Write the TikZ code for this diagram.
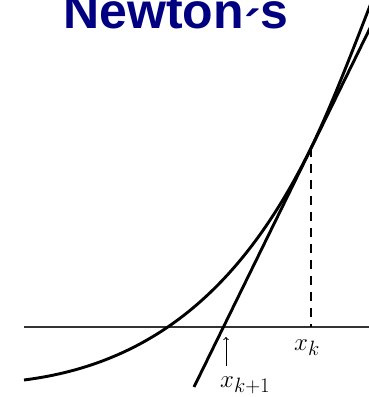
\documentclass[tikz,border=0pt]{standalone}
\usepackage{fontspec}
\newfontfamily\titlefont{Liberation Sans}
\definecolor{titleblue}{RGB}{0,0,128}
\tikzset{
  curveline/.style={line width=2.9pt, black},
  axisline/.style={line width=2.4pt, black!80},
  dashline/.style={line width=2.8pt, black, dash pattern=on 9pt off 7pt},
  lbl/.style={inner sep=0pt, anchor=base west, font=\fontsize{30}{34}\selectfont},
}
\begin{document}
\begin{tikzpicture}[x=1pt,y=-1pt]
\useasboundingbox (0,0) rectangle (369,397);
\fill[white] (0,0) rectangle (369,397);
% title
\node[inner sep=0pt, anchor=base, text=titleblue, font=\titlefont\bfseries\fontsize{50}{50}\selectfont] (title) at (176,28) {Newton\raisebox{-17pt}{´}s};
% axis
\coordinate (axL) at (24,327);
\coordinate (axR) at (372,327);
\draw[axisline] (axL) -- (axR);
% curve
\coordinate (c0) at (24,380);
\coordinate (xkpt) at (311,148);
\coordinate (c3) at (373,-2);
\draw[curveline] (c0) .. controls (150,364) and (241,291) .. (xkpt)
                      .. controls (331,107) and (352,52) .. (c3);
% tangent
\coordinate (tb) at (194,387);
\coordinate (tt) at (374,20);
\draw[curveline] (tb) -- (tt);
% dashed
\coordinate (xkax) at (311,327);
\draw[dashline] (xkpt) -- (xkax);
% labels
\node[lbl] (xk) at (294,350) {$x_k$};
\node[lbl] (xk1) at (220,387) {$x_{k+1}$};
\coordinate (arrtop) at (226,337);
\draw[line width=1pt, ->] (226,366) -- (arrtop);
\end{tikzpicture}
\end{document}
